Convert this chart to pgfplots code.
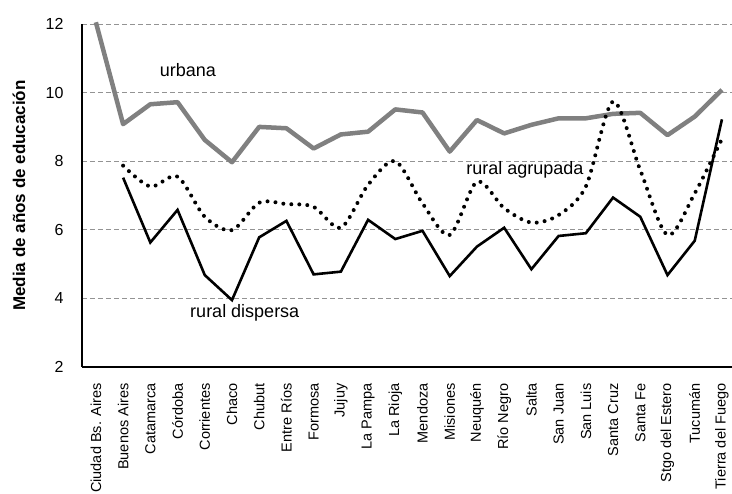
\documentclass[border=0pt]{standalone}
\usepackage{pgfplots}
\pgfplotsset{compat=1.18}
\usepackage{fontspec}
\setmainfont{Liberation Sans}
\newcommand\catfont{\fontsize{14.5}{16}\selectfont}
\newcommand\numfont{\fontsize{16}{18}\selectfont}
\begin{document}
\begin{tikzpicture}[x=1pt,y=1pt]
\useasboundingbox (0,0) rectangle (732,494);
\begin{axis}[
  at={(82pt,127pt)}, anchor=south west,
  scale only axis, width=650pt, height=343pt,
  xmin=-0.51, xmax=23.37, ymin=2, ymax=12,
  axis lines=left,
  axis line style={line width=2.3pt, -, black},
  clip=false,
  major tick length=0pt,
  ytick={2,4,6,8,10,12},
  yticklabels={\numfont 2,\numfont 4,\numfont 6,\numfont 8,\numfont 10,\numfont 12},
  xtick={0,...,23},
  xticklabels={\catfont Ciudad Bs. Aires,\catfont Buenos Aires,\catfont Catamarca,\catfont Córdoba,\catfont Corrientes,\catfont Chaco,\catfont Chubut,\catfont Entre Ríos,\catfont Formosa,\catfont Jujuy,\catfont La Pampa,\catfont La Rioja,\catfont Mendoza,\catfont Misiones,\catfont Neuquén,\catfont Río Negro,\catfont Salta,\catfont San Juan,\catfont San Luis,\catfont Santa Cruz,\catfont Santa Fe,\catfont Stgo del Estero,\catfont Tucumán,\catfont Tierra del Fuego},
  xticklabel style={rotate=90, anchor=east, xshift=-13pt},
  yticklabel style={xshift=-15pt},
  ymajorgrids,
  grid style={gray!85, line width=0.9pt, dash pattern=on 5pt off 3pt},
  ylabel={Media de años de educación},
  ylabel style={font=\fontsize{17}{19}\selectfont\bfseries, at={(axis description cs:-0.097,0.5)}, anchor=center},
]
% urbana
\addplot[color=black!50, line width=4.5pt, line join=round] coordinates {
(0,12.05) (1,9.08) (2,9.66) (3,9.72) (4,8.62) (5,7.97) (6,9.0) (7,8.96) (8,8.37) (9,8.78) (10,8.86)
(11,9.51) (12,9.42) (13,8.28) (14,9.2) (15,8.81) (16,9.06) (17,9.25) (18,9.25) (19,9.38) (20,9.41)
(21,8.76) (22,9.3) (23,10.08)};
% rural dispersa
\addplot[color=black, line width=2.6pt, line join=miter] coordinates {
(1,7.52) (2,5.63) (3,6.58) (4,4.68) (5,3.95) (6,5.78) (7,6.26) (8,4.70) (9,4.78) (10,6.29)
(11,5.73) (12,5.97) (13,4.65) (14,5.51) (15,6.06) (16,4.85) (17,5.82) (18,5.90) (19,6.94) (20,6.38)
(21,4.68) (22,5.68) (23,9.22)};
% rural agrupada
\addplot[color=black, smooth, tension=0.5, line width=4pt, line cap=round, dash pattern=on 0pt off 8pt] coordinates {
(1,7.87) (2,7.26) (3,7.55) (4,6.38) (5,5.99) (6,6.79) (7,6.75) (8,6.67) (9,6.06) (10,7.31)
(11,8.0) (12,6.77) (13,5.85) (14,7.40) (15,6.63) (16,6.21) (17,6.43) (18,7.26) (19,9.74) (20,7.74)
(21,5.85) (22,7.06) (23,8.65)};
\node[font=\fontsize{18}{20}\selectfont] at (axis cs:3.38,10.66) {urbana};
\node[font=\fontsize{18}{20}\selectfont] at (axis cs:15.76,7.74) {rural agrupada};
\node[font=\fontsize{18}{20}\selectfont] at (axis cs:5.47,3.57) {rural dispersa};
\end{axis}
\end{tikzpicture}
\end{document}
